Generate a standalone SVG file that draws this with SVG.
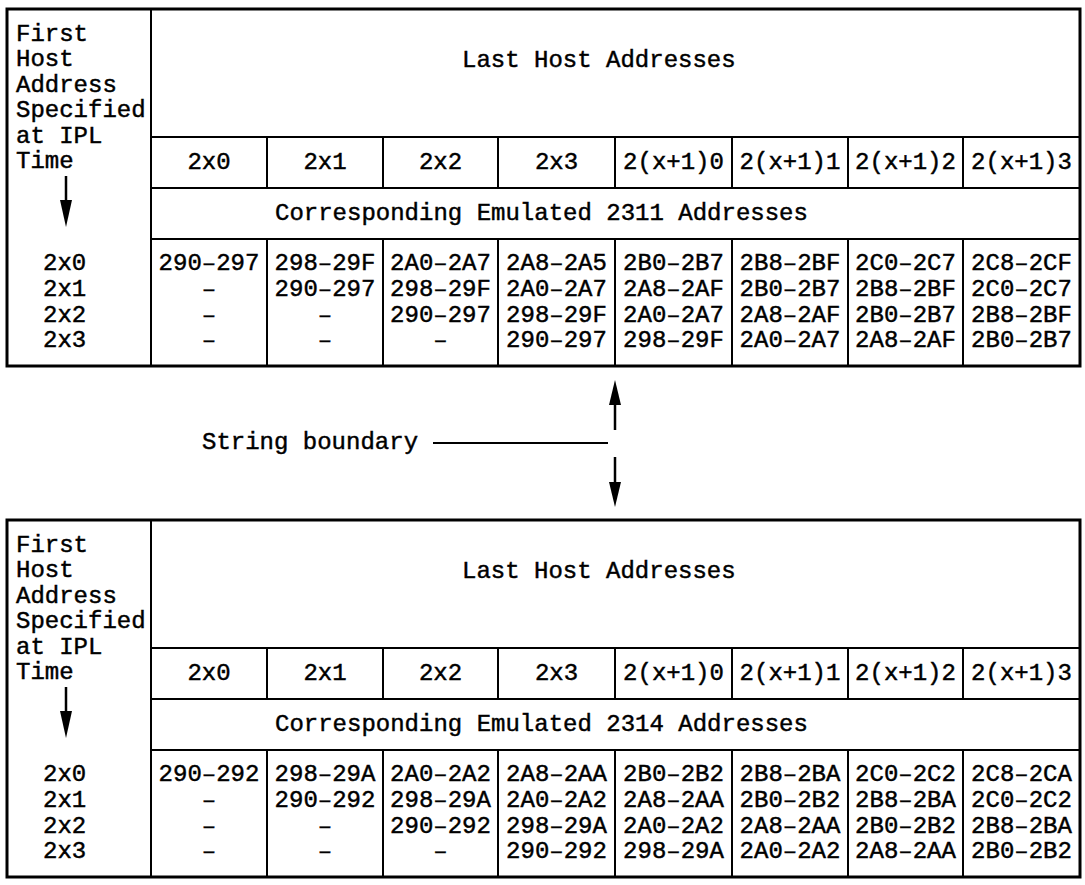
<svg xmlns="http://www.w3.org/2000/svg" width="1085" height="885" viewBox="0 0 1085 885">
<style>
.bg{fill:#fff}
.outer{fill:none;stroke:#000;stroke-width:3}
.inner{fill:none;stroke:#000;stroke-width:2}
.t{font-family:"Liberation Mono","DejaVu Sans Mono",monospace;font-size:24px;fill:#000;stroke:#000;stroke-width:0.45px}
.m{text-anchor:middle}
.ln{stroke:#000;stroke-width:2.5;fill:none}
.ah{fill:#000}
</style>
<rect class="bg" x="0" y="0" width="1085" height="885"/>
<g id="table-2311">
<rect class="outer" x="7" y="9" width="1073" height="357"/>
<path class="inner" d="M151 9V366M151 137H1080M151 188H1080M151 239H1080M267 137V188M383 137V188M498 137V188M615 137V188M732 137V188M848 137V188M963 137V188M267 239V366M383 239V366M498 239V366M615 239V366M732 239V366M848 239V366M963 239V366"/>
<g class="t">
<text x="16" y="41">First</text>
<text x="16" y="66">Host</text>
<text x="16" y="92">Address</text>
<text x="16" y="117">Specified</text>
<text x="16" y="143">at IPL</text>
<text x="16" y="168">Time</text>
<text x="462" y="67">Last Host Addresses</text>
<text x="275" y="220">Corresponding Emulated 2311 Addresses</text>
<g class="m">
<text x="209" y="169">2x0</text>
<text x="325" y="169">2x1</text>
<text x="440.5" y="169">2x2</text>
<text x="556.5" y="169">2x3</text>
<text x="673.5" y="169">2(x+1)0</text>
<text x="790" y="169">2(x+1)1</text>
<text x="905.5" y="169">2(x+1)2</text>
<text x="1021.5" y="169">2(x+1)3</text>
</g>
<text x="43" y="270">2x0</text>
<text x="43" y="296">2x1</text>
<text x="43" y="321.5">2x2</text>
<text x="43" y="347">2x3</text>
<g class="m">
<text x="209" y="270">290–297</text>
<text x="325" y="270">298–29F</text>
<text x="440.5" y="270">2A0–2A7</text>
<text x="556.5" y="270">2A8–2A5</text>
<text x="673.5" y="270">2B0–2B7</text>
<text x="790" y="270">2B8–2BF</text>
<text x="905.5" y="270">2C0–2C7</text>
<text x="1021.5" y="270">2C8–2CF</text>
<text x="209" y="296">–</text>
<text x="325" y="296">290–297</text>
<text x="440.5" y="296">298–29F</text>
<text x="556.5" y="296">2A0–2A7</text>
<text x="673.5" y="296">2A8–2AF</text>
<text x="790" y="296">2B0–2B7</text>
<text x="905.5" y="296">2B8–2BF</text>
<text x="1021.5" y="296">2C0–2C7</text>
<text x="209" y="321.5">–</text>
<text x="325" y="321.5">–</text>
<text x="440.5" y="321.5">290–297</text>
<text x="556.5" y="321.5">298–29F</text>
<text x="673.5" y="321.5">2A0–2A7</text>
<text x="790" y="321.5">2A8–2AF</text>
<text x="905.5" y="321.5">2B0–2B7</text>
<text x="1021.5" y="321.5">2B8–2BF</text>
<text x="209" y="347">–</text>
<text x="325" y="347">–</text>
<text x="440.5" y="347">–</text>
<text x="556.5" y="347">290–297</text>
<text x="673.5" y="347">298–29F</text>
<text x="790" y="347">2A0–2A7</text>
<text x="905.5" y="347">2A8–2AF</text>
<text x="1021.5" y="347">2B0–2B7</text>
</g>
</g>
</g>
<g id="table-2314" transform="translate(0,511)">
<rect class="outer" x="7" y="9" width="1073" height="357"/>
<path class="inner" d="M151 9V366M151 137H1080M151 188H1080M151 239H1080M267 137V188M383 137V188M498 137V188M615 137V188M732 137V188M848 137V188M963 137V188M267 239V366M383 239V366M498 239V366M615 239V366M732 239V366M848 239V366M963 239V366"/>
<g class="t">
<text x="16" y="41">First</text>
<text x="16" y="66">Host</text>
<text x="16" y="92">Address</text>
<text x="16" y="117">Specified</text>
<text x="16" y="143">at IPL</text>
<text x="16" y="168">Time</text>
<text x="462" y="67">Last Host Addresses</text>
<text x="275" y="220">Corresponding Emulated 2314 Addresses</text>
<g class="m">
<text x="209" y="169">2x0</text>
<text x="325" y="169">2x1</text>
<text x="440.5" y="169">2x2</text>
<text x="556.5" y="169">2x3</text>
<text x="673.5" y="169">2(x+1)0</text>
<text x="790" y="169">2(x+1)1</text>
<text x="905.5" y="169">2(x+1)2</text>
<text x="1021.5" y="169">2(x+1)3</text>
</g>
<text x="43" y="270">2x0</text>
<text x="43" y="296">2x1</text>
<text x="43" y="321.5">2x2</text>
<text x="43" y="347">2x3</text>
<g class="m">
<text x="209" y="270">290–292</text>
<text x="325" y="270">298–29A</text>
<text x="440.5" y="270">2A0–2A2</text>
<text x="556.5" y="270">2A8–2AA</text>
<text x="673.5" y="270">2B0–2B2</text>
<text x="790" y="270">2B8–2BA</text>
<text x="905.5" y="270">2C0–2C2</text>
<text x="1021.5" y="270">2C8–2CA</text>
<text x="209" y="296">–</text>
<text x="325" y="296">290–292</text>
<text x="440.5" y="296">298–29A</text>
<text x="556.5" y="296">2A0–2A2</text>
<text x="673.5" y="296">2A8–2AA</text>
<text x="790" y="296">2B0–2B2</text>
<text x="905.5" y="296">2B8–2BA</text>
<text x="1021.5" y="296">2C0–2C2</text>
<text x="209" y="321.5">–</text>
<text x="325" y="321.5">–</text>
<text x="440.5" y="321.5">290–292</text>
<text x="556.5" y="321.5">298–29A</text>
<text x="673.5" y="321.5">2A0–2A2</text>
<text x="790" y="321.5">2A8–2AA</text>
<text x="905.5" y="321.5">2B0–2B2</text>
<text x="1021.5" y="321.5">2B8–2BA</text>
<text x="209" y="347">–</text>
<text x="325" y="347">–</text>
<text x="440.5" y="347">–</text>
<text x="556.5" y="347">290–292</text>
<text x="673.5" y="347">298–29A</text>
<text x="790" y="347">2A0–2A2</text>
<text x="905.5" y="347">2A8–2AA</text>
<text x="1021.5" y="347">2B0–2B2</text>
</g>
</g>
</g>
<g id="label-string-boundary">
<text class="t" x="202" y="449">String boundary</text>
</g>
<g id="connectors">
<path class="ln" d="M66 176V203"/>
<polygon class="ah" points="60,200 72,200 66,227"/>
<path class="ln" d="M66 687V714"/>
<polygon class="ah" points="60,711 72,711 66,738"/>
<path class="inner" d="M433 443H608"/>
<path class="ln" d="M615 403V430"/>
<polygon class="ah" points="609,405 621,405 615,380"/>
<path class="ln" d="M615 457V484"/>
<polygon class="ah" points="609,482 621,482 615,507"/>
</g>
</svg>
